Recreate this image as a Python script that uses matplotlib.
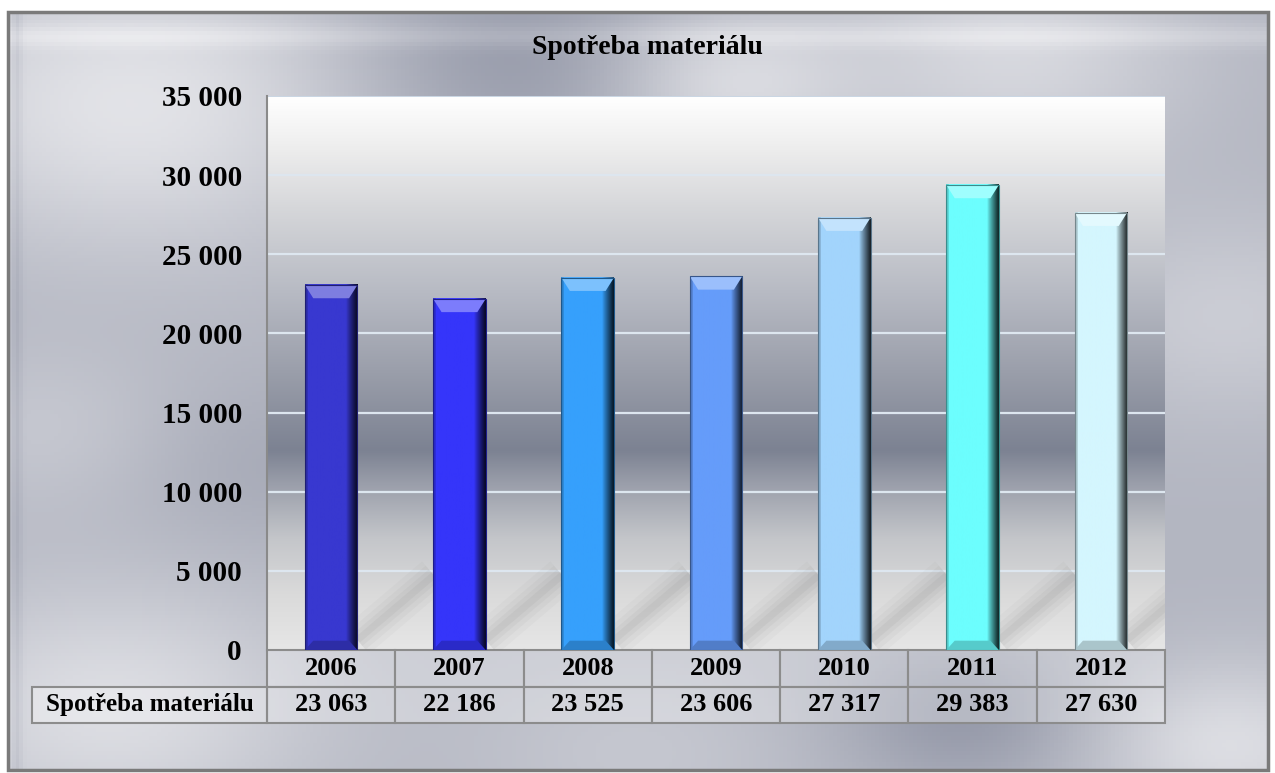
import numpy as np
import matplotlib.pyplot as plt
import matplotlib.colors as mcolors
from matplotlib.patches import Rectangle, Polygon
from matplotlib.ticker import FuncFormatter
from matplotlib.transforms import blended_transform_factory

plt.rcParams['font.family'] = ['Liberation Serif', 'DejaVu Serif']
plt.rcParams['font.weight'] = 'bold'

# data
title = 'Spotřeba materiálu'
years = ['2006', '2007', '2008', '2009', '2010', '2011', '2012']
values = [23063, 22186, 23525, 23606, 27317, 29383, 27630]
bar_colors = ['#3838d0', '#3535fa', '#36a0fc', '#659cfa', '#a2d4fc', '#6cfefe', '#d4f6fe']
yticks = [0, 5000, 10000, 15000, 20000, 25000, 30000, 35000]


def fmt(v, pos=None):
    return '{:,}'.format(int(v)).replace(',', ' ')


W, H = 1275, 773
fig = plt.figure(figsize=(W / 100, H / 100), dpi=100)

# metallic background of the chart frame
bg = fig.add_axes([0, 0, 1, 1], zorder=-10)
bg.set_axis_off()
yy, xx = np.mgrid[0:1:200j, 0:1:330j]
field = 0.45 + 0.0 * xx
spots = [(0.10, 0.12, 0.14, 0.40), (0.40, 0.06, 0.10, -0.25), (0.57, 0.09, 0.07, 0.35),
         (0.80, 0.05, 0.10, 0.30), (0.97, 0.40, 0.10, 0.20), (0.08, 0.92, 0.12, 0.35),
         (0.50, 0.98, 0.10, 0.15), (0.76, 0.93, 0.07, -0.25), (0.03, 0.55, 0.08, 0.15),
         (0.97, 0.97, 0.08, 0.35), (0.20, 0.60, 0.08, -0.10)]
for cx, cy, r, a in spots:
    field += a * np.exp(-((xx - cx) ** 2 + (yy - cy) ** 2) / (2 * r ** 2))
field += 0.15 * np.exp(-((yy - 0.03) / 0.015) ** 2)   # soft rim under the top edge
field -= 0.12 * np.exp(-((xx - 0.006) / 0.004) ** 2)  # darker left edge
field = np.clip(field, 0, 1)
dark = np.array(mcolors.to_rgb('#7e8396'))
light = np.array(mcolors.to_rgb('#f4f4f6'))
img = dark + field[..., None] * (light - dark)
x0, x1 = 8 / W, 1268 / W
y0, y1 = 1 - 770 / H, 1 - 12 / H
bg.imshow(img, extent=[x0, x1, y0, y1], aspect='auto', origin='upper')
bg.set_xlim(0, 1)
bg.set_ylim(0, 1)
bg.add_patch(Rectangle((x0, y0), x1 - x0, y1 - y0, fill=False, ec='#7a7a7a', lw=2.5))

# plot area
ax = fig.add_axes([267 / W, 1 - 650 / H, (1165 - 267) / W, (650 - 96) / H])
x = np.arange(len(years))
ymax = yticks[-1]

stops = [(0.0, '#e6e6e6'), (0.1, '#dadada'), (0.2, '#c4c6ca'), (0.3, '#9a9eaa'),
         (0.36, '#7c8292'), (0.5, '#9a9eaa'), (0.65, '#b8bbc4'), (0.8, '#d6d7da'),
         (0.9, '#ececec'), (1.0, '#ffffff')]
cmap_bg = mcolors.LinearSegmentedColormap.from_list('plotbg', stops)
grad = np.linspace(0, 1, 256)[:, None]
ax.imshow(grad, cmap=cmap_bg, extent=[-0.5, len(years) - 0.5, 0, ymax],
          aspect='auto', origin='lower', zorder=0)

for t in yticks[1:-1]:
    ax.axhline(t, color='#dde6ef', lw=1.6, zorder=1)
ax.axhline(ymax, color='#c0cede', lw=1.2, zorder=1)

w = 0.41

# soft diagonal reflections on the floor behind the bars
for xi in x:
    for lw, al in [(26, 0.04), (18, 0.05), (11, 0.06), (5, 0.07)]:
        ax.plot([xi + w / 2, xi + 0.8], [ymax * 0.018, ymax * 0.135], color='#6a6a6a',
                lw=lw, alpha=al, solid_capstyle='butt', zorder=2)

# bars with bevel shading
cap = ymax * 0.024
inset = w * 0.16
prof = np.linspace(0, 1, 60)
for xi, v, c in zip(x, values, bar_colors):
    base = np.array(mcolors.to_rgb(c))
    shade = np.ones_like(prof)
    shade = np.where(prof > 0.78, 1 - 0.85 * ((prof - 0.78) / 0.22) ** 0.9, shade)
    shade = np.where(prof < 0.05, 0.8, shade)
    row = base[None, :] * shade[:, None]
    ax.imshow(row[None, :, :], extent=[xi - w / 2, xi + w / 2, 0, v],
              aspect='auto', zorder=3)
    top = Polygon([(xi - w / 2, v), (xi + w / 2, v), (xi + w / 2 - inset, v - cap),
                   (xi - w / 2 + inset, v - cap)], closed=True,
                  fc=base + (1 - base) * 0.35, ec='none', zorder=4)
    ax.add_patch(top)
    bot = Polygon([(xi - w / 2, 0), (xi + w / 2, 0), (xi + w / 2 - inset, cap * 0.7),
                   (xi - w / 2 + inset, cap * 0.7)], closed=True,
                  fc=base * 0.8, ec='none', zorder=4)
    ax.add_patch(bot)
    ax.add_patch(Rectangle((xi - w / 2, 0), w, v, fill=False, ec=base * 0.55, lw=0.8, zorder=5))

ax.set_xlim(-0.5, len(years) - 0.5)
ax.set_ylim(0, ymax)
ax.set_yticks(yticks)
ax.yaxis.set_major_formatter(FuncFormatter(fmt))
ax.tick_params(axis='y', length=0, pad=18, labelsize=21)
ax.set_xticks([])
for s in ['top', 'right', 'bottom']:
    ax.spines[s].set_visible(False)
ax.spines['left'].set_color('#8a8a8a')
ax.spines['left'].set_linewidth(1.5)

fig.text(647 / W, 1 - 47 / H, title, ha='center', va='center', fontsize=20, fontweight='bold')

# data table under the plot
tr = blended_transform_factory(ax.transData, ax.transAxes)
rh = 36.5 / 554
label_w = 234 / 128
edge = '#8c8c8c'
for xi, yr, v in zip(x, years, values):
    ax.add_patch(Rectangle((xi - 0.5, -rh), 1, rh, transform=tr, clip_on=False,
                           fc=(1, 1, 1, 0.3), ec=edge, lw=1.5))
    ax.add_patch(Rectangle((xi - 0.5, -2 * rh), 1, rh, transform=tr, clip_on=False,
                           fc=(1, 1, 1, 0.3), ec=edge, lw=1.5))
    ax.text(xi, -rh / 2, yr, transform=tr, ha='center', va='center', fontsize=19)
    ax.text(xi, -1.5 * rh, fmt(v), transform=tr, ha='center', va='center', fontsize=19)
ax.add_patch(Rectangle((-0.5 - label_w, -2 * rh), label_w, rh, transform=tr, clip_on=False,
                       fc=(1, 1, 1, 0.3), ec=edge, lw=1.5))
ax.text(-0.5 - label_w / 2, -1.5 * rh, title, transform=tr, ha='center', va='center',
        fontsize=18)

fig.savefig('out.png', dpi=100)
